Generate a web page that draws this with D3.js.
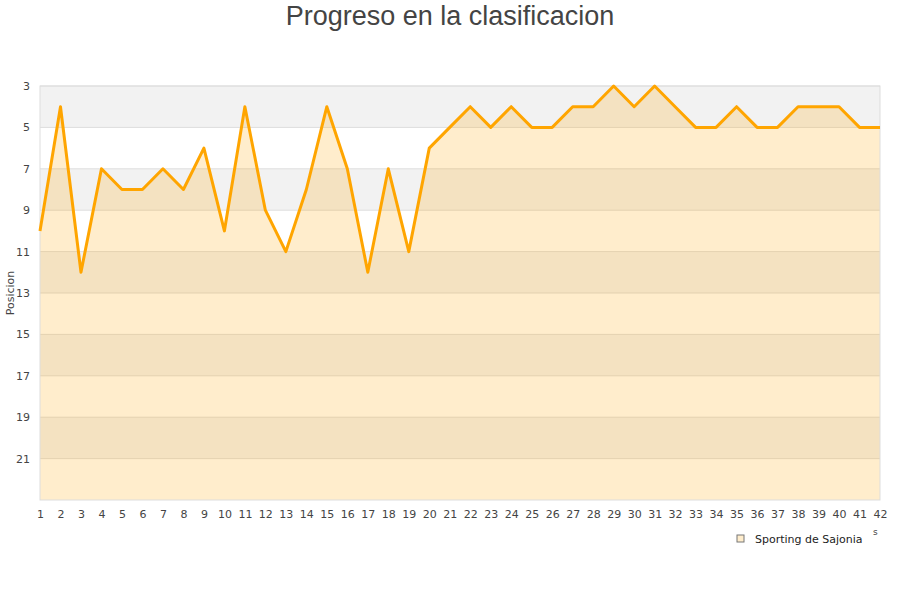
<!DOCTYPE html>
<html>
<head>
<meta charset="utf-8">
<script src="https://cdn.jsdelivr.net/npm/d3@7"></script>
<style>
  body { margin: 0; background: #fff; }
  text { font-family: "DejaVu Sans", sans-serif; }
  text.title { font-family: "Liberation Sans", Arial, sans-serif; }
</style>
</head>
<body>
<svg id="chart" width="900" height="600"></svg>
<script>
const title = "Progreso en la clasificacion";
const seriesName = "Sporting de Sajonia";
const jornadas = d3.range(1, 43); // 1..42
const posiciones = [10, 4, 12, 7, 8, 8, 7, 8, 6, 10, 4, 9, 11, 8, 4, 7, 12, 7, 11, 6,
  5, 4, 5, 4, 5, 5, 4, 4, 3, 4, 3, 4, 5, 5, 4, 5, 5, 4, 4, 4, 5, 5];
const yTicks = [3, 5, 7, 9, 11, 13, 15, 17, 19, 21];

const svg = d3.select("#chart");
const margin = { top: 86, right: 20, bottom: 100, left: 40 };
const width = 900 - margin.left - margin.right;
const height = 600 - margin.top - margin.bottom;

const x = d3.scaleLinear().domain([1, 42]).range([margin.left, margin.left + width]);
const y = d3.scaleLinear().domain([3, 23]).range([margin.top, margin.top + height]);

// title
svg.append("text")
  .attr("class", "title")
  .attr("x", 450).attr("y", 25)
  .attr("text-anchor", "middle")
  .attr("font-size", 27)
  .attr("fill", "#444")
  .text(title);

// alternating bands
svg.append("g").selectAll("rect")
  .data(d3.range(3, 23, 2))
  .join("rect")
  .attr("x", margin.left)
  .attr("y", d => y(d))
  .attr("width", width)
  .attr("height", d => y(d + 2) - y(d))
  .attr("fill", (d, i) => i % 2 === 0 ? "#f2f2f2" : "#ffffff");

// grid lines
svg.append("g").selectAll("line")
  .data(yTicks)
  .join("line")
  .attr("x1", margin.left).attr("x2", margin.left + width)
  .attr("y1", d => y(d)).attr("y2", d => y(d))
  .attr("stroke", "#ddd");

// area
const area = d3.area()
  .x((d, i) => x(jornadas[i]))
  .y0(y(23))
  .y1(d => y(d));
svg.append("path")
  .datum(posiciones)
  .attr("d", area)
  .attr("fill", "rgba(255,165,0,0.2)");

// frame
svg.append("rect")
  .attr("x", margin.left).attr("y", margin.top)
  .attr("width", width).attr("height", height)
  .attr("fill", "none").attr("stroke", "#ddd");

// line
const line = d3.line()
  .x((d, i) => x(jornadas[i]))
  .y(d => y(d));
svg.append("path")
  .datum(posiciones)
  .attr("d", line)
  .attr("fill", "none")
  .attr("stroke", "#ffa500")
  .attr("stroke-width", 3)
  .attr("stroke-linejoin", "round");

// y axis
const yAxis = svg.append("g")
  .attr("transform", `translate(${margin.left},0)`)
  .call(d3.axisLeft(y).tickValues(yTicks).tickSize(0).tickPadding(10));
yAxis.select(".domain").remove();
yAxis.selectAll("text").attr("font-size", 11).attr("fill", "#444").attr("font-family", "DejaVu Sans");

// x axis
const xAxis = svg.append("g")
  .attr("transform", `translate(0,${margin.top + height})`)
  .call(d3.axisBottom(x).tickValues(jornadas).tickFormat(d3.format("d")).tickSize(0).tickPadding(10));
xAxis.select(".domain").remove();
xAxis.selectAll("text").attr("font-size", 11).attr("fill", "#444").attr("font-family", "DejaVu Sans");

// y axis title
svg.append("text")
  .attr("transform", "translate(14,293) rotate(-90)")
  .attr("text-anchor", "middle")
  .attr("font-size", 11)
  .attr("fill", "#444")
  .text("Posicion");

// clipped x axis title remnant
svg.append("text")
  .attr("x", 873).attr("y", 535)
  .attr("font-size", 9)
  .attr("fill", "#444")
  .text("s");

// legend
const legend = svg.append("g").attr("transform", "translate(737,535)");
legend.append("rect")
  .attr("width", 7).attr("height", 7)
  .attr("fill", "#ffedcc")
  .attr("stroke", "#777");
legend.append("text")
  .attr("x", 18).attr("y", 8)
  .attr("font-size", 11)
  .attr("fill", "#222")
  .text(seriesName);
</script>
</body>
</html>
